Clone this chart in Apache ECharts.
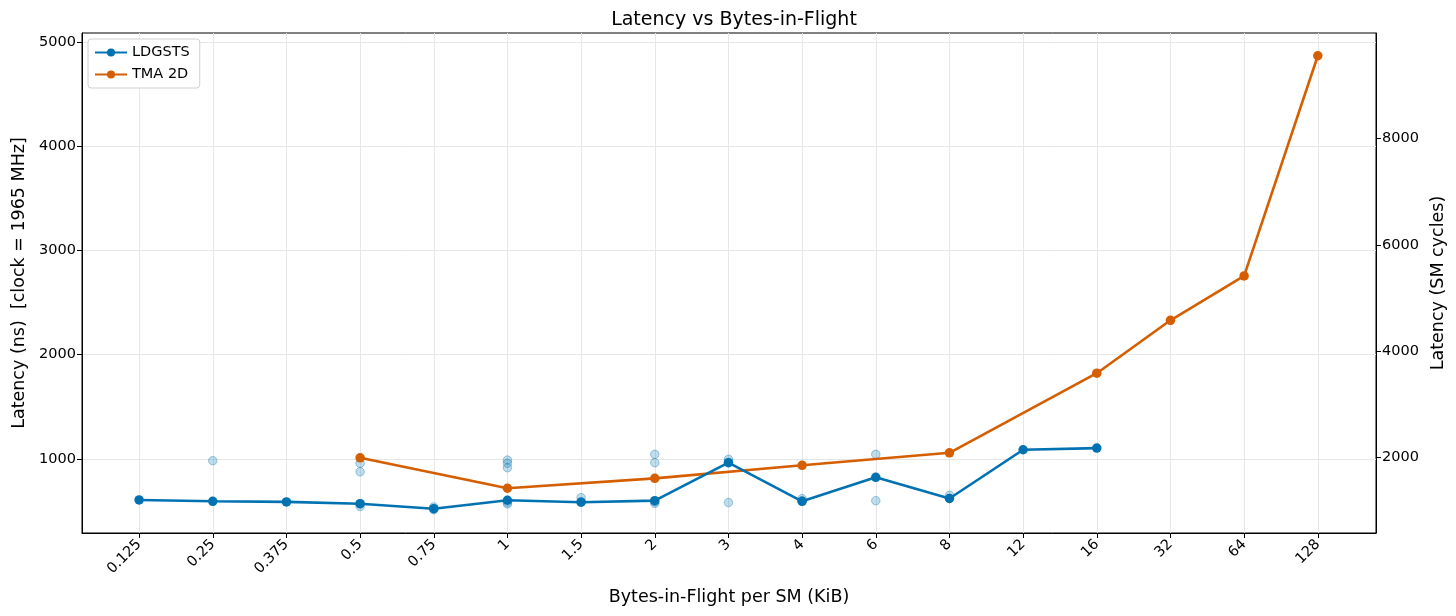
<!DOCTYPE html>
<html><head><meta charset="utf-8">
<script src="https://cdn.jsdelivr.net/npm/echarts@6/dist/echarts.min.js"></script>
<style>html,body{margin:0;padding:0;background:#fff}#c{width:1456px;height:616px}</style>
</head><body><div id="c"></div>
<script>
const categories = ['0.125','0.25','0.375','0.5','0.75','1','1.5','2','3','4','6','8','12','16','32','64','128'];
const ldgsts = [608,595,589,572,524,605,586,601,965,595,825,622,1089,1105,null,null,null];
const tma2d  = [null,null,null,1012,null,720,null,815,null,940,null,1060,null,1823,2330,2755,4866];
const runCats = ['0.25','0.5','0.5','0.5','0.5','0.75','0.75','1','1','1','1','1','1.5','1.5','2','2','2','2','3','3','3','4','4','6','6','8','8'];
const runVals = [984,959,878,545,572,540,515,990,959,917,570,585,630,590,1045,965,575,590,997,583,968,620,598,1045,601,652,622];
const leftTicks = [1000,2000,3000,4000,5000];
const rightTicks = [2000,4000,6000,8000];
const clockGHz = 1.965;

const BLUE = '#0072B2', ORANGE = '#D55E00';
const FONT = 'DejaVu Sans';
const toPairs = arr => arr.map((v,i)=>[i,v]).filter(p=>p[1]!==null);
const runPairs = runCats.map((c,i)=>[categories.indexOf(c), runVals[i]]);
const yMin = 291, yMax = 5084;

const chart = echarts.init(document.getElementById('c'), null, {renderer:'canvas'});
chart.setOption({
  animation:false,
  backgroundColor:'#fff',
  textStyle:{fontFamily:FONT},
  title:{text:'Latency vs Bytes-in-Flight', left:729, top:6, textAlign:'center',
    textStyle:{fontFamily:FONT, fontSize:19, fontWeight:'normal', color:'#000'}},
  legend:{
    data:['LDGSTS','TMA 2D'], orient:'vertical', left:88, top:39,
    backgroundColor:'#fff', borderColor:'#d0d0d0', borderWidth:1, borderRadius:3,
    padding:[6,10,6,6], itemGap:7, itemWidth:32, itemHeight:10,
    textStyle:{fontFamily:FONT, fontSize:14.5, color:'#000'}
  },
  grid:{left:82, right:80, top:33, bottom:83, show:true, borderColor:'#000', borderWidth:1,
    containLabel:false, outerBoundsMode:'none'},
  xAxis:{
    type:'value', min:-0.775, max:16.79,
    name:'Bytes-in-Flight per SM (KiB)', nameLocation:'middle', nameGap:55,
    nameTextStyle:{fontFamily:FONT, fontSize:17.5, color:'#000'},
    axisLine:{show:true, onZero:false, lineStyle:{color:'#000', width:1}},
    axisTick:{show:true, length:5, customValues:categories.map((c,i)=>i), lineStyle:{color:'#000'}},
    axisLabel:{customValues:categories.map((c,i)=>i), rotate:45, fontSize:14.5, color:'#000', fontFamily:FONT, margin:9,
      formatter:v=>categories[Math.round(v)]},
    splitLine:{show:true, lineStyle:{color:'#e6e6e6', width:1}}
  },
  yAxis:[{
    type:'value', min:yMin, max:yMax, position:'left',
    name:'Latency (ns)  [clock = 1965 MHz]', nameLocation:'middle', nameGap:54,
    nameTextStyle:{fontFamily:FONT, fontSize:17.5, color:'#000'},
    axisLine:{show:true, onZero:false, lineStyle:{color:'#000'}},
    axisTick:{show:true, length:5, customValues:leftTicks, lineStyle:{color:'#000'}},
    axisLabel:{customValues:leftTicks, fontSize:14.5, color:'#000', fontFamily:FONT, margin:6, formatter:v=>String(v)},
    splitLine:{show:true, lineStyle:{color:'#e6e6e6', width:1}}
  },{
    type:'value', min:yMin*clockGHz, max:yMax*clockGHz, position:'right',
    name:'Latency (SM cycles)', nameLocation:'middle', nameGap:53,
    nameTextStyle:{fontFamily:FONT, fontSize:17.5, color:'#000'},
    axisLine:{show:true, onZero:false, lineStyle:{color:'#000'}},
    axisTick:{show:true, length:5, customValues:rightTicks, lineStyle:{color:'#000'}},
    axisLabel:{customValues:rightTicks, fontSize:14.5, color:'#000', fontFamily:FONT, margin:6, formatter:v=>String(v)},
    splitLine:{show:false}
  }],
  series:[
    {name:'runs', type:'scatter', data:runPairs, symbolSize:8.5, z:1,
      itemStyle:{color:'rgba(0,114,178,0.3)', borderColor:'rgba(0,114,178,0.45)', borderWidth:1}},
    {name:'TMA 2D', type:'line', data:toPairs(tma2d), symbol:'circle', symbolSize:9.5, z:3,
      lineStyle:{color:ORANGE, width:2.6}, itemStyle:{color:ORANGE}},
    {name:'LDGSTS', type:'line', data:toPairs(ldgsts), symbol:'circle', symbolSize:9.5, z:4,
      lineStyle:{color:BLUE, width:2.6}, itemStyle:{color:BLUE}}
  ]
});
</script></body></html>
